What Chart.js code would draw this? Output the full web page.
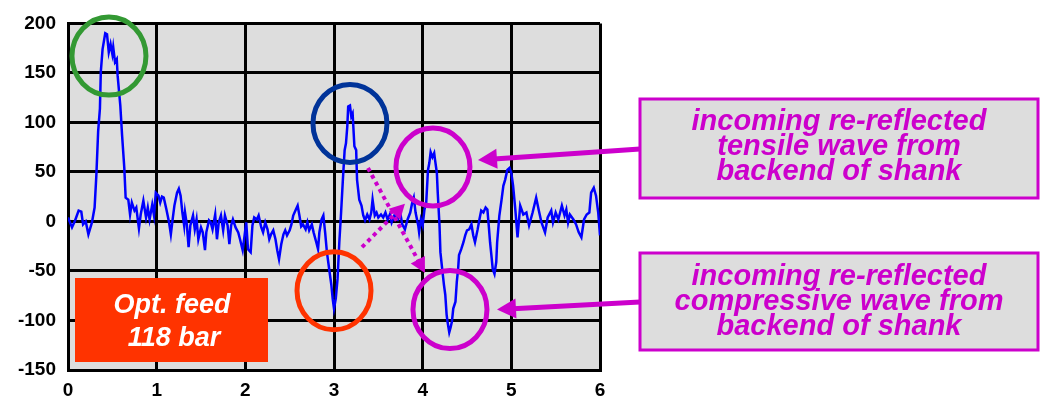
<!DOCTYPE html>
<html>
<head>
<meta charset="utf-8">
<script src="https://cdn.jsdelivr.net/npm/chart.js@4.4.1/dist/chart.umd.min.js"></script>
<style>
  html, body { margin: 0; padding: 0; background: #fff; }
  #wrap { width: 1040px; height: 401px; }
</style>
</head>
<body>
<div id="wrap"><canvas id="chart" width="1040" height="401"></canvas></div>
<script>
// time axis (ms) and measured force signal
const times = [
  0.00, 0.045, 0.08, 0.12, 0.15, 0.17, 0.20, 0.23, 0.27, 0.30, 0.32, 0.34, 0.36, 0.37, 0.39, 0.42,
  0.44, 0.46, 0.48, 0.50, 0.51, 0.53, 0.55, 0.56, 0.59, 0.61, 0.635, 0.65, 0.68, 0.70, 0.72, 0.75,
  0.77, 0.80, 0.82, 0.85, 0.88, 0.90, 0.92, 0.95, 0.97, 0.99, 1.02, 1.04, 1.06, 1.08, 1.11, 1.14,
  1.16, 1.18, 1.20, 1.23, 1.25, 1.27, 1.29, 1.31, 1.32, 1.34, 1.36, 1.38, 1.41, 1.43, 1.45, 1.47,
  1.50, 1.52, 1.545, 1.56, 1.59, 1.61, 1.63, 1.66, 1.68, 1.70, 1.725, 1.75, 1.77, 1.80, 1.82, 1.84,
  1.86, 1.89, 1.92, 1.94, 1.97, 1.985, 2.01, 2.03, 2.06, 2.08, 2.10, 2.13, 2.15, 2.18, 2.20, 2.225,
  2.25, 2.27, 2.29, 2.315, 2.34, 2.36, 2.38, 2.405, 2.43, 2.45, 2.47, 2.50, 2.52, 2.54, 2.57, 2.59,
  2.61, 2.63, 2.65, 2.68, 2.70, 2.72, 2.75, 2.77, 2.80, 2.82, 2.835, 2.86, 2.88, 2.90, 2.92, 2.95,
  2.97, 2.985, 3.00, 3.02, 3.04, 3.06, 3.08, 3.10, 3.12, 3.135, 3.15, 3.16, 3.18, 3.195, 3.21, 3.23,
  3.25, 3.26, 3.285, 3.31, 3.33, 3.35, 3.375, 3.40, 3.42, 3.435, 3.46, 3.48, 3.50, 3.53, 3.555, 3.58,
  3.605, 3.63, 3.65, 3.68, 3.72, 3.75, 3.77, 3.80, 3.83, 3.86, 3.88, 3.90, 3.92, 3.95, 3.96, 3.98,
  4.00, 4.02, 4.04, 4.06, 4.075, 4.09, 4.11, 4.13, 4.14, 4.16, 4.17, 4.19, 4.20, 4.22, 4.24, 4.255,
  4.27, 4.28, 4.30, 4.315, 4.33, 4.345, 4.37, 4.385, 4.40, 4.41, 4.435, 4.46, 4.48, 4.50, 4.525, 4.55,
  4.57, 4.59, 4.62, 4.64, 4.66, 4.685, 4.71, 4.73, 4.745, 4.76, 4.775, 4.79, 4.81, 4.83, 4.84, 4.865,
  4.89, 4.91, 4.93, 4.955, 4.98, 5.00, 5.02, 5.045, 5.07, 5.10, 5.135, 5.17, 5.20, 5.24, 5.28, 5.31,
  5.34, 5.38, 5.41, 5.45, 5.47, 5.50, 5.53, 5.57, 5.60, 5.62, 5.64, 5.66, 5.70, 5.73, 5.76, 5.79,
  5.82, 5.85, 5.88, 5.90, 5.93, 5.955, 5.98, 6.00
];
const force = [
  4, -6, 1, 11, 10, -3, 0, -13, -1, 14, 47, 91, 114, 151, 174, 190,
  189, 171, 179, 169, 176, 161, 164, 147, 117, 87, 54, 24, 22, 7, 19, 11,
  14, -7, 7, 21, 4, 14, 2, 17, 6, 29, 26, 19, 25, 24, 12, -1,
  -13, 2, 16, 29, 33, 26, 9, -4, 9, -3, -26, -4, 6, -8, 2, -18,
  -6, -11, -29, -11, 1, -1, -8, 7, -18, -1, 6, -9, 6, -4, -23, -4,
  2, -6, -11, -18, -29, -19, -1, -28, -31, -4, 4, 2, 6, -6, -11, -1,
  -8, -18, -13, -9, -18, -29, -38, -23, -13, -9, -14, -9, -3, 6, 12, 16,
  6, -5, -3, -8, -1, -9, -3, -11, -21, -28, -11, 2, 6, -11, -31, -51,
  -64, -78, -88, -78, -58, -21, 9, 42, 72, 79, 96, 116, 117, 106, 109, 76,
  72, 42, 22, 16, 6, 1, 7, 2, 9, 22, 6, 9, 4, 7, 4, 9,
  2, 7, -1, 6, 2, 7, -3, -8, 2, 9, 18, 24, 9, -4, -11, 2,
  -4, 12, 19, 52, 59, 70, 65, 69, 62, 49, 29, -4, -31, -48, -64, -74,
  -94, -101, -112, -107, -101, -88, -81, -61, -48, -34, -28, -21, -14, -9, -8, -3,
  -14, -21, -8, 2, 11, 9, 14, 12, -4, -21, -34, -48, -53, -41, -21, 6,
  22, 36, 42, 52, 54, 49, 36, 12, -16, 16, 7, 9, -4, 9, 24, 11,
  -1, -11, 4, 11, -1, 9, 2, 16, 6, 12, -1, 7, 2, -3, -11, -16,
  2, 7, 9, 29, 34, 26, 9, -14
];

const xMin = 0, xMax = 6, xStep = 1;
const yMin = -150, yMax = 200, yStep = 50;

// circles marking the wave events: centre in data units, radii in px
const rings = [
  { x: 0.462, y: 167, rx: 37, ry: 39, color: '#339933' },
  { x: 3.18, y: 99, rx: 37, ry: 39, color: '#003399' },
  { x: 4.116, y: 55, rx: 37, ry: 39, color: '#cc00cc' },
  { x: 3.0, y: -70, rx: 37, ry: 39, color: '#ff3300' },
  { x: 4.308, y: -89, rx: 37, ry: 39, color: '#cc00cc' }
];

// dotted arrows between the circles (data units)
const dottedArrows = [
  { from: [3.383, 54], to: [4.026, -52] },
  { from: [3.316, -26], to: [3.80, 18] }
];

// callout boxes on the right, arrow tips in data units
const callouts = [
  { box: [640, 99, 398, 99], lines: ['incoming re-reflected', 'tensile wave from', 'backend of shank'],
    baselines: [130, 155, 180], arrowFrom: [640, 149], arrowTo: [4.624, 62] },
  { box: [640, 253, 398, 97], lines: ['incoming re-reflected', 'compressive wave from', 'backend of shank'],
    baselines: [285, 310, 335], arrowFrom: [640, 302], arrowTo: [4.838, -89] }
];

const fontFamily = "'Liberation Sans', Arial, sans-serif";
Chart.defaults.font.family = fontFamily;

const points = times.map((t, i) => ({ x: t, y: force[i] }));

function arrowHead(ctx, x0, y0, x1, y1, len, half, color) {
  const a = Math.atan2(y1 - y0, x1 - x0);
  ctx.save();
  ctx.fillStyle = color;
  ctx.translate(x1, y1);
  ctx.rotate(a);
  ctx.beginPath();
  ctx.moveTo(0, 0);
  ctx.lineTo(-len, -half);
  ctx.lineTo(-len, half);
  ctx.closePath();
  ctx.fill();
  ctx.restore();
}

const plotBackground = {
  id: 'plotBackground',
  beforeDraw(chart) {
    const { ctx, chartArea: a } = chart;
    ctx.save();
    ctx.fillStyle = '#dddddd';
    ctx.fillRect(a.left, a.top, a.right - a.left, a.bottom - a.top);
    ctx.restore();
  }
};

const annotations = {
  id: 'annotations',
  afterDraw(chart) {
    const ctx = chart.ctx;
    const sx = chart.scales.x, sy = chart.scales.y;
    const px = v => sx.getPixelForValue(v);
    const py = v => sy.getPixelForValue(v);

    ctx.save();

    // feed pressure label
    ctx.fillStyle = '#ff3300';
    ctx.fillRect(75, 278, 193, 84);
    ctx.fillStyle = '#ffffff';
    ctx.font = 'italic bold 27px ' + fontFamily;
    ctx.textAlign = 'center';
    ctx.textBaseline = 'alphabetic';
    ctx.fillText('Opt. feed', 172, 313);
    ctx.fillText('118 bar', 174, 346);

    // circles
    ctx.lineWidth = 5;
    rings.forEach(r => {
      ctx.strokeStyle = r.color;
      ctx.beginPath();
      ctx.ellipse(px(r.x), py(r.y), r.rx, r.ry, 0, 0, Math.PI * 2);
      ctx.stroke();
    });

    // dotted arrows
    dottedArrows.forEach(d => {
      const x0 = px(d.from[0]), y0 = py(d.from[1]);
      const x1 = px(d.to[0]), y1 = py(d.to[1]);
      const L = Math.hypot(x1 - x0, y1 - y0);
      const ex = x1 - (x1 - x0) / L * 12, ey = y1 - (y1 - y0) / L * 12;
      ctx.strokeStyle = '#cc00cc';
      ctx.lineWidth = 4;
      ctx.setLineDash([4, 4]);
      ctx.beginPath();
      ctx.moveTo(x0, y0);
      ctx.lineTo(ex, ey);
      ctx.stroke();
      ctx.setLineDash([]);
      arrowHead(ctx, x0, y0, x1, y1, 15, 8, '#cc00cc');
    });

    // callouts
    callouts.forEach(c => {
      const [bx, by, bw, bh] = c.box;
      ctx.fillStyle = '#dddddd';
      ctx.fillRect(bx, by, bw, bh);
      ctx.strokeStyle = '#cc00cc';
      ctx.lineWidth = 3;
      ctx.strokeRect(bx, by, bw, bh);

      ctx.fillStyle = '#cc00cc';
      ctx.font = 'italic bold 29px ' + fontFamily;
      ctx.textAlign = 'center';
      c.lines.forEach((t, i) => ctx.fillText(t, bx + bw / 2, c.baselines[i]));

      const x0 = c.arrowFrom[0], y0 = c.arrowFrom[1];
      const x1 = px(c.arrowTo[0]), y1 = py(c.arrowTo[1]);
      const L = Math.hypot(x1 - x0, y1 - y0);
      const ex = x1 - (x1 - x0) / L * 16, ey = y1 - (y1 - y0) / L * 16;
      ctx.strokeStyle = '#cc00cc';
      ctx.lineWidth = 5;
      ctx.beginPath();
      ctx.moveTo(x0, y0);
      ctx.lineTo(ex, ey);
      ctx.stroke();
      arrowHead(ctx, x0, y0, x1, y1, 19, 10, '#cc00cc');
    });

    ctx.restore();
  }
};

new Chart(document.getElementById('chart'), {
  type: 'line',
  data: {
    datasets: [{
      data: points,
      borderColor: '#0000ff',
      borderWidth: 2.5,
      pointRadius: 0,
      tension: 0,
      fill: false
    }]
  },
  options: {
    responsive: false,
    animation: false,
    devicePixelRatio: 1,
    layout: { padding: { left: 0, right: 440, top: 18, bottom: 0 } },
    plugins: { legend: { display: false }, tooltip: { enabled: false } },
    scales: {
      x: {
        type: 'linear',
        min: xMin, max: xMax,
        afterFit: s => { s.height = 31; },
        ticks: { stepSize: xStep, color: '#000', padding: 9, font: { size: 19, weight: 'bold' } },
        grid: { color: '#000', lineWidth: 3, drawTicks: false },
        border: { color: '#000', width: 3 }
      },
      y: {
        min: yMin, max: yMax,
        afterFit: s => { s.width = 68; },
        ticks: { stepSize: yStep, color: '#000', padding: 12, font: { size: 19, weight: 'bold' } },
        grid: { color: '#000', lineWidth: 3, drawTicks: false },
        border: { color: '#000', width: 3 }
      }
    }
  },
  plugins: [plotBackground, annotations]
});
</script>
</body>
</html>
